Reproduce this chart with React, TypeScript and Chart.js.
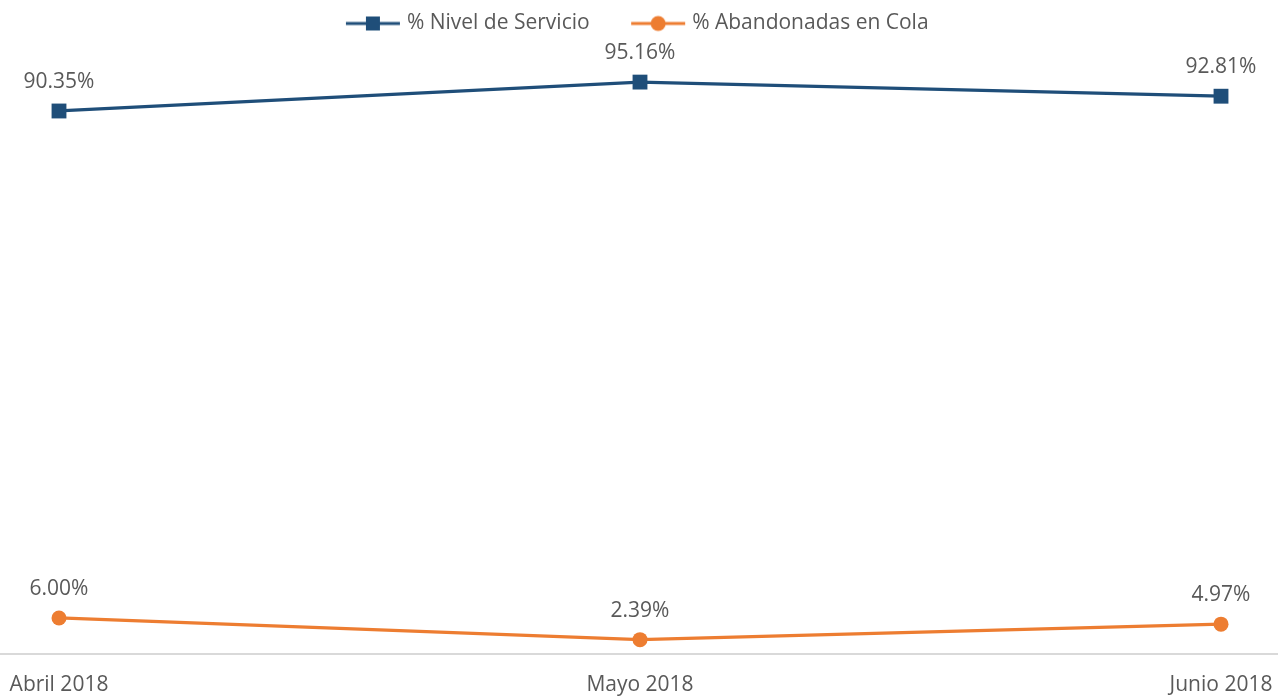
import React, { useEffect, useRef } from "react";
import { Chart, registerables } from "chart.js";

Chart.register(...registerables);

const categories = ["Abril 2018", "Mayo 2018", "Junio 2018"];
const seriesNames = ["% Nivel de Servicio", "% Abandonadas en Cola"];
const nivelServicio = [90.35, 95.16, 92.81];
const abandonadas = [6.0, 2.39, 4.97];

const BLUE = "#1F4E79";
const ORANGE = "#ED7D31";
const TEXT = "#595959";
const FONT = "'Open Sans', sans-serif";
const FONT_SIZE = 21;

function makeLegendIcon(color: string, shape: "rect" | "circle"): HTMLCanvasElement {
  const c = document.createElement("canvas");
  c.width = 56;
  c.height = 18;
  const ctx = c.getContext("2d")!;
  ctx.strokeStyle = color;
  ctx.lineWidth = 3;
  ctx.beginPath();
  ctx.moveTo(1, 9);
  ctx.lineTo(55, 9);
  ctx.stroke();
  ctx.fillStyle = color;
  if (shape === "rect") {
    ctx.fillRect(21, 2, 14, 14);
  } else {
    ctx.beginPath();
    ctx.arc(28, 9, 7.5, 0, Math.PI * 2);
    ctx.fill();
  }
  return c;
}

const dataLabelsPlugin = {
  id: "dataLabels",
  afterDatasetsDraw(chart: any) {
    const ctx = chart.ctx;
    ctx.save();
    ctx.font = `${FONT_SIZE}px ${FONT}`;
    ctx.fillStyle = TEXT;
    ctx.textAlign = "center";
    ctx.textBaseline = "middle";
    chart.data.datasets.forEach((ds: any, di: number) => {
      const meta = chart.getDatasetMeta(di);
      meta.data.forEach((pt: any, i: number) => {
        const v = ds.data[i].y as number;
        ctx.fillText(v.toFixed(2) + "%", pt.x, pt.y - 29);
      });
    });
    ctx.restore();
  },
};

const legendHeightPlugin = {
  id: "legendHeight",
  beforeInit(chart: any) {
    const legend = chart.legend;
    if (!legend) return;
    const origFit = legend.fit;
    legend.fit = function () {
      origFit.call(this);
      this.height = 85;
    };
  },
};

export default function App() {
  const canvasRef = useRef<HTMLCanvasElement | null>(null);

  useEffect(() => {
    const canvas = canvasRef.current;
    if (!canvas) return;
    const icons = [makeLegendIcon(BLUE, "rect"), makeLegendIcon(ORANGE, "circle")];
    const chart = new Chart(canvas, {
      type: "line",
      data: {
        datasets: [
          {
            label: seriesNames[0],
            data: nivelServicio.map((v, i) => ({ x: i, y: v })),
            borderColor: BLUE,
            backgroundColor: BLUE,
            borderWidth: 3.25,
            pointStyle: "rect",
            pointRadius: 10.5,
            pointBorderWidth: 0,
            tension: 0,
            clip: false as any,
          },
          {
            label: seriesNames[1],
            data: abandonadas.map((v, i) => ({ x: i, y: v })),
            borderColor: ORANGE,
            backgroundColor: ORANGE,
            borderWidth: 3.25,
            pointStyle: "circle",
            pointRadius: 7.5,
            pointBorderWidth: 0,
            tension: 0,
            clip: false as any,
          },
        ],
      },
      options: {
        animation: false,
        responsive: false,
        maintainAspectRatio: false,
        layout: { autoPadding: false, padding: { top: -32, left: 0, right: 0, bottom: -16 } },
        scales: {
          x: {
            type: "linear",
            min: -0.10155,
            max: 2.0981,
            afterBuildTicks: (scale: any) => {
              scale.ticks = categories.map((_, i) => ({ value: i }));
            },
            afterFit: (scale: any) => {
              scale.paddingLeft = 0;
              scale.paddingRight = 0;
            },
            grid: { display: false, drawTicks: false },
            border: { display: true, color: "#D9D9D9", width: 2 },
            ticks: {
              color: TEXT,
              font: { family: FONT, size: FONT_SIZE, lineHeight: "62px" },
              padding: 0,
              maxRotation: 0,
              autoSkip: false,
              callback: (v: any) => categories[v as number] ?? "",
            },
          },
          y: {
            display: false,
            min: 0,
            max: 100,
          },
        },
        plugins: {
          legend: {
            display: true,
            position: "top",
            align: "center",
            labels: {
              usePointStyle: true,
              pointStyleWidth: 47,
              padding: 45,
              color: TEXT,
              font: { family: FONT, size: FONT_SIZE },
              generateLabels: (ch: any) =>
                ch.data.datasets.map((ds: any, i: number) => ({
                  text: ds.label,
                  pointStyle: icons[i],
                  fillStyle: ds.borderColor,
                  strokeStyle: ds.borderColor,
                  lineWidth: 0,
                  hidden: false,
                  datasetIndex: i,
                  fontColor: TEXT,
                })),
            },
          },
          tooltip: { enabled: false },
        },
      },
      plugins: [dataLabelsPlugin, legendHeightPlugin],
    });
    return () => chart.destroy();
  }, []);

  return (
    <div style={{ position: "absolute", left: 0, top: 0, width: 1278, height: 700, background: "#fff" }}>
      <canvas ref={canvasRef} width={1278} height={700} style={{ display: "block" }} />
    </div>
  );
}
